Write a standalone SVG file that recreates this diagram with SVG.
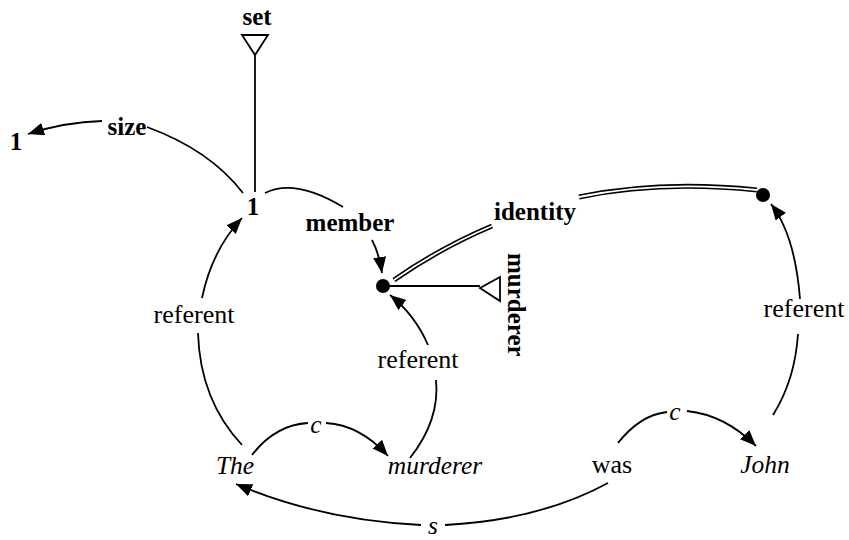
<svg xmlns="http://www.w3.org/2000/svg" width="849" height="540" viewBox="0 0 849 540" font-family="'Liberation Serif', 'DejaVu Serif', serif">
<style>
  text { font-family: "Liberation Serif", "DejaVu Serif", serif; fill: #000; }
  .b { font-weight: bold; font-size: 25px; }
  .r { font-size: 26px; }
  .i { font-style: italic; font-size: 25.5px; }
  .ln { fill: none; stroke: #000; stroke-width: 1.8; }
  .arr { fill: none; stroke: #000; stroke-width: 1.8; marker-end: url(#ah); }
  .dbl-o { fill: none; stroke: #000; stroke-width: 5; }
  .dbl-i { fill: none; stroke: #fff; stroke-width: 1.8; }
  .tri { fill: #fff; stroke: #000; stroke-width: 1.8; }
</style>
<defs>
  <marker id="ah" markerUnits="userSpaceOnUse" markerWidth="18" markerHeight="14" refX="16" refY="6.5" orient="auto">
    <path d="M0,0 L16,6.5 L0,13 z" fill="#000"/>
  </marker>
</defs>
<rect width="849" height="540" fill="#fff"/>

<g id="connectors">
  <!-- set type line -->
  <path class="ln" d="M255,55 L255,192"/>
  <!-- size -->
  <path class="ln" d="M243,193 Q210,150 147,127"/>
  <path class="arr" d="M102,121 Q65,122 28,134"/>
  <text class="b" x="127" y="135" text-anchor="middle">size</text>
  <!-- member -->
  <path class="ln" d="M265,193 Q295,178 343,207"/>
  <path class="arr" d="M372,240 Q379,253 382,273"/>
  <text class="b" x="350" y="231" text-anchor="middle">member</text>
  <!-- identity -->
  <path class="dbl-o" d="M394,280 Q440,248 492,226"/>
  <path class="dbl-i" d="M394,280 Q440,248 492,226"/>
  <path class="dbl-o" d="M579,197 Q660,180 757,190"/>
  <path class="dbl-i" d="M579,197 Q660,180 757,190"/>
  <text class="b" x="535" y="220" text-anchor="middle">identity</text>
  <!-- murderer type line -->
  <path class="ln" d="M383,286 L480,286"/>
  <!-- referent: The -> 1 -->
  <path class="ln" d="M242,445 Q200,400 198,333"/>
  <path class="arr" d="M202,298 Q212,250 242,218"/>
  <text class="r" x="194" y="323" text-anchor="middle">referent</text>
  <!-- referent: murderer -> dot -->
  <path class="ln" d="M410,458 Q440,420 436,380"/>
  <path class="arr" d="M428,345 Q415,315 390,295"/>
  <text class="r" x="418" y="368" text-anchor="middle">referent</text>
  <!-- referent: John -> dot -->
  <path class="ln" d="M773,415 Q795,380 798,334"/>
  <path class="arr" d="M800,299 Q795,235 771,204"/>
  <text class="r" x="804" y="317" text-anchor="middle">referent</text>
  <!-- c: The -> murderer -->
  <path class="ln" d="M252,455 Q275,425 308,423"/>
  <path class="arr" d="M326,423 Q360,425 388,456"/>
  <text class="i" x="316" y="433" text-anchor="middle">c</text>
  <!-- c: was -> John -->
  <path class="ln" d="M618,443 Q640,415 667,412"/>
  <path class="arr" d="M687,411 Q725,415 756,446"/>
  <text class="i" x="675" y="420" text-anchor="middle">c</text>
  <!-- s: was -> The -->
  <path class="ln" d="M608,483 Q540,520 445,525"/>
  <path class="arr" d="M421,525 Q320,520 236,484"/>
  <text class="i" x="433" y="534" text-anchor="middle">s</text>
</g>

<g id="node-set">
  <text class="b" x="257" y="25" text-anchor="middle">set</text>
  <path class="tri" d="M242,35 L268,35 L255,55 z"/>
</g>
<g id="node-one">
  <text class="b" x="253" y="215" text-anchor="middle">1</text>
</g>
<g id="node-one-size">
  <text class="b" x="16" y="150" text-anchor="middle">1</text>
</g>
<g id="node-dot-murderer">
  <circle cx="383" cy="286" r="7" fill="#000"/>
</g>
<g id="node-murderer-type">
  <path class="tri" d="M480,288 L500,277 L500,301 z"/>
  <text class="b" transform="translate(508,253) rotate(90)" x="0" y="0">murderer</text>
</g>
<g id="node-dot-john">
  <circle cx="763" cy="195" r="7" fill="#000"/>
</g>
<g id="node-the">
  <text class="i" x="235" y="474" text-anchor="middle">The</text>
</g>
<g id="node-murderer">
  <text class="i" x="435" y="474" text-anchor="middle">murderer</text>
</g>
<g id="node-was">
  <text class="r" x="612" y="473" text-anchor="middle">was</text>
</g>
<g id="node-john">
  <text class="i" x="765" y="473" text-anchor="middle">John</text>
</g>
</svg>
